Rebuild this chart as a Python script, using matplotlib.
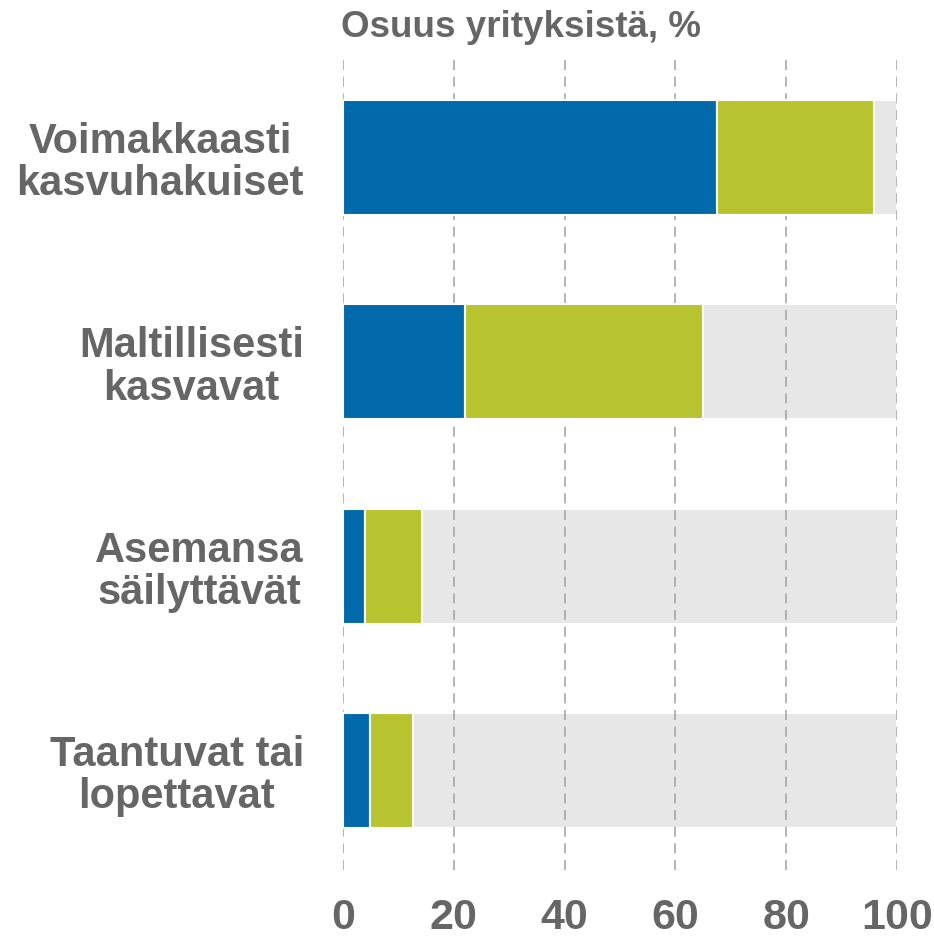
import matplotlib.pyplot as plt
import numpy as np

categories = ["Voimakkaasti\nkasvuhakuiset", "Maltillisesti\nkasvavat",
              "Asemansa\nsäilyttävät", "Taantuvat tai\nlopettavat"]
blue_vals = [67.5, 22.0, 3.9, 4.9]
green_vals = [28.4, 43.0, 10.45, 7.8]
total = 100
xticks = [0, 20, 40, 60, 80, 100]

BLUE = "#026aab"
GREEN = "#b8c330"
GREY = "#e6e7e6"
TEXT = "#666666"

plt.rcParams['font.family'] = ['Liberation Sans', 'DejaVu Sans']
plt.rcParams['font.weight'] = 'bold'

W, H = 934, 942
fig = plt.figure(figsize=(W / 100, H / 100), dpi=100)
ax = fig.add_axes([343 / W, 1 - 870 / H, (897 - 343) / W, (870 - 58) / H])

y = np.arange(len(categories))
blue = np.array(blue_vals)
green = np.array(green_vals)
rest = total - blue - green
h = 0.5625

ax.barh(y, rest, left=blue + green, height=h, color=GREY, edgecolor="white",
        linewidth=1.5, zorder=1)
ax.barh(y, blue, height=h, color=BLUE, edgecolor="white", linewidth=1.5, zorder=3)
ax.barh(y, green, left=blue, height=h, color=GREEN, edgecolor="white",
        linewidth=1.5, zorder=3)

for xv in xticks:
    ax.axvline(xv, color="#a8a8a8", linewidth=1.2, linestyle=(0, (6, 4)), zorder=2)

ax.set_xlim(0, total)
ax.set_ylim(len(categories) - 1 + 0.487, -0.487)
ax.set_xticks(xticks)
ax.set_xticklabels([str(t) for t in xticks], fontsize=31, color=TEXT, fontweight='bold')
ax.set_yticks(y)
ax.set_yticklabels(categories, fontsize=30, color=TEXT, fontweight='bold')
for lab in ax.get_yticklabels():
    lab.set_multialignment('center')
    lab.set_linespacing(1.08)
ax.tick_params(axis='x', length=0, pad=20)
ax.tick_params(axis='y', length=0, pad=28)
for s in ax.spines.values():
    s.set_visible(False)

fig.text(341 / W, 1 - 37 / H, "Osuus yrityksistä, %", fontsize=26.5, color=TEXT,
         fontweight='bold', ha='left', va='baseline')

fig.savefig("out.png", dpi=100, facecolor="white")
